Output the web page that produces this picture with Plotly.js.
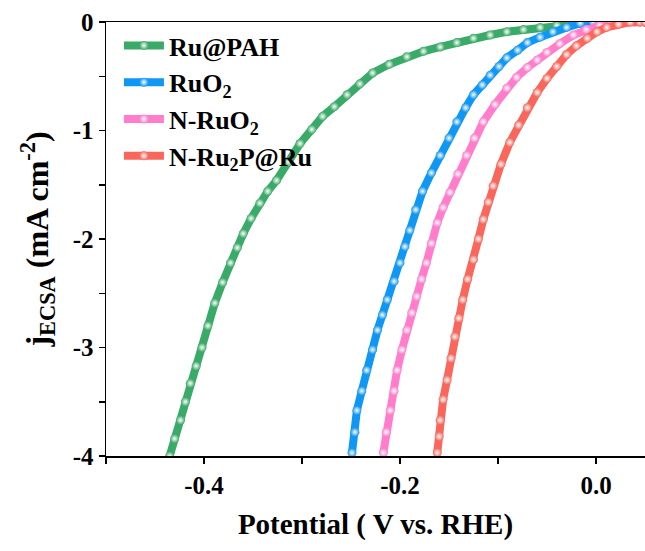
<!DOCTYPE html>
<html>
<head>
<meta charset="utf-8">
<script src="https://cdn.plot.ly/plotly-3.0.1.min.js"></script>
<style>html,body{margin:0;padding:0;background:#fff}#chart{width:645px;height:551px}</style>
</head>
<body>
<div id="chart"></div>
<script>
const seriesNames = ["Ru@PAH", "RuO<sub>2</sub>", "N-RuO<sub>2</sub>", "N-Ru<sub>2</sub>P@Ru"];
const seriesColors = ["#3aaa68", "#0f97f3", "#ff7dcb", "#f9675c"];

const vRuPAH = [-0.435,-0.430,-0.424,-0.419,-0.414,-0.408,-0.402,-0.396,-0.389,-0.381,-0.373,-0.366,-0.360,-0.352,-0.343,-0.335,-0.326,-0.314,-0.302,-0.290,-0.279,-0.267,-0.254,-0.241,-0.228,-0.211,-0.193,-0.176,-0.159,-0.142,-0.125,-0.108,-0.091,-0.074,-0.057,-0.040,-0.023,-0.010,0.000,0.015,0.030,0.045,0.050];
const jRuPAH = [-4.00,-3.84,-3.67,-3.50,-3.33,-3.17,-3.00,-2.80,-2.59,-2.40,-2.22,-2.08,-1.95,-1.81,-1.67,-1.56,-1.46,-1.29,-1.12,-0.99,-0.87,-0.78,-0.67,-0.57,-0.47,-0.39,-0.32,-0.27,-0.23,-0.19,-0.15,-0.12,-0.09,-0.07,-0.05,-0.03,-0.01,-0.005,0,0,0,0,0];

const vRuO2 = [-0.249,-0.246,-0.244,-0.239,-0.234,-0.228,-0.223,-0.218,-0.213,-0.206,-0.200,-0.195,-0.190,-0.184,-0.177,-0.168,-0.159,-0.150,-0.142,-0.133,-0.125,-0.116,-0.108,-0.099,-0.091,-0.080,-0.070,-0.057,-0.044,-0.030,-0.016,-0.003,0.011,0.030,0.050];
const jRuO2 = [-3.97,-3.78,-3.58,-3.40,-3.21,-3.02,-2.84,-2.70,-2.56,-2.39,-2.22,-2.07,-1.92,-1.73,-1.56,-1.39,-1.23,-1.07,-0.92,-0.79,-0.67,-0.58,-0.49,-0.41,-0.33,-0.26,-0.19,-0.14,-0.09,-0.05,-0.01,0,0,0,0];

const vNRuO2 = [-0.217,-0.214,-0.210,-0.206,-0.203,-0.198,-0.193,-0.188,-0.183,-0.178,-0.173,-0.168,-0.162,-0.156,-0.149,-0.141,-0.132,-0.124,-0.115,-0.103,-0.091,-0.081,-0.070,-0.060,-0.050,-0.037,-0.023,-0.010,0.004,0.016,0.028,0.040,0.050];
const jNRuO2 = [-3.97,-3.78,-3.58,-3.40,-3.21,-3.02,-2.84,-2.68,-2.53,-2.37,-2.22,-2.04,-1.85,-1.71,-1.57,-1.40,-1.23,-1.07,-0.92,-0.76,-0.61,-0.51,-0.42,-0.35,-0.28,-0.20,-0.12,-0.07,-0.03,-0.01,0,0,0];

const vNRu2P = [-0.162,-0.160,-0.159,-0.156,-0.152,-0.148,-0.144,-0.140,-0.136,-0.131,-0.125,-0.120,-0.115,-0.110,-0.105,-0.097,-0.088,-0.079,-0.070,-0.060,-0.050,-0.040,-0.030,-0.020,-0.009,0.001,0.011,0.023,0.035,0.045,0.050];
const jNRu2P = [-3.97,-3.82,-3.67,-3.48,-3.30,-3.10,-2.90,-2.73,-2.56,-2.37,-2.19,-2.00,-1.82,-1.66,-1.51,-1.31,-1.11,-0.95,-0.79,-0.65,-0.52,-0.41,-0.30,-0.22,-0.15,-0.09,-0.05,-0.02,0,0,0];

const xTickVals = [-0.5,-0.4,-0.3,-0.2,-0.1,0.0];
const xTickText = ["","-0.4","","-0.2","","0.0"];
const yTickVals = [0,-0.5,-1,-1.5,-2,-2.5,-3,-3.5,-4];
const yTickText = ["0","","-1","","-2","","-3","","-4"];

const xs = [vRuPAH, vRuO2, vNRuO2, vNRu2P];
const ys = [jRuPAH, jRuO2, jNRuO2, jNRu2P];

const font = "'Liberation Serif', 'Times New Roman', serif";
const traces = xs.map((x, i) => ({
  x: x, y: ys[i], name: seriesNames[i], type: 'scatter', mode: 'lines+markers',
  line: {color: seriesColors[i], width: 8},
  marker: {size: 9, color: seriesColors[i], gradient: {type: 'radial', color: '#ffffff'}},
  cliponaxis: true
}));

const layout = {
  width: 645, height: 551,
  margin: {l: 106, r: 0, t: 22, b: 95},
  paper_bgcolor: '#fff', plot_bgcolor: '#fff',
  font: {family: font, color: '#000'},
  showlegend: true,
  legend: {x: 0.024, y: 1.0, xanchor: 'left', yanchor: 'top', bgcolor: 'rgba(0,0,0,0)',
           font: {family: font, size: 26, weight: 'bold', color: '#000'}, itemwidth: 40, tracegroupgap: 0},
  xaxis: {range: [-0.5, 0.05], tickmode: 'array', tickvals: xTickVals, ticktext: xTickText,
          ticks: 'outside', ticklen: 6, tickwidth: 1.5, tickcolor: '#000',
          showline: true, linewidth: 1.5, linecolor: '#000', mirror: true,
          showgrid: false, zeroline: false,
          tickfont: {family: font, size: 25, weight: 'bold'},
          title: {text: 'Potential ( V vs. RHE)', font: {family: font, size: 29, weight: 'bold'}, standoff: 16}},
  yaxis: {range: [-4, 0], tickmode: 'array', tickvals: yTickVals, ticktext: yTickText,
          ticks: 'outside', ticklen: 6, tickwidth: 1.5, tickcolor: '#000',
          showline: true, linewidth: 1.5, linecolor: '#000', mirror: false,
          showgrid: false, zeroline: false,
          tickfont: {family: font, size: 25, weight: 'bold'},
          title: {text: 'j<sub>ECSA</sub> (mA cm<sup>-2</sup>)', font: {family: font, size: 32, weight: 'bold'}, standoff: 14}}
};

Plotly.newPlot('chart', traces, layout, {staticPlot: true, displayModeBar: false});
</script>
</body>
</html>
